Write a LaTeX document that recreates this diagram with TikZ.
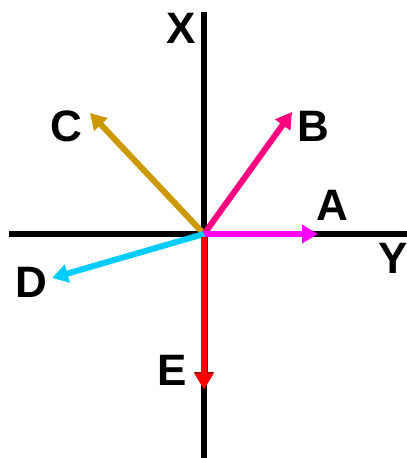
\documentclass[tikz,border=0pt]{standalone}
\usepackage{fontspec}
\setmainfont{Liberation Sans}
\usetikzlibrary{arrows.meta}
\definecolor{cgold}{HTML}{CC9900}
\definecolor{cpink}{HTML}{FF0080}
\definecolor{cmag}{HTML}{FF00FF}
\definecolor{ccyan}{HTML}{00CCFF}
\definecolor{cred}{HTML}{FF0000}
\definecolor{cdred}{HTML}{990000}
\begin{document}
\begin{tikzpicture}[x=1pt,y=-1pt,
  axis/.style={line width=5.5pt,black},
  vec/.style={line width=6pt,-{Triangle[length=16pt,width=18pt]}},
  lab/.style={font=\fontsize{44}{52}\selectfont\bfseries,inner sep=0pt}]
\useasboundingbox (0,0) rectangle (407,458);
\coordinate (O) at (204,234);
\coordinate (xt) at (204,12);
\coordinate (xb) at (204,458);
\coordinate (yl) at (9,234);
\coordinate (yr) at (407,234);
\draw[axis] (xt) -- (xb);
\draw[axis] (yl) -- (yr);
\coordinate (A) at (318,234);
\coordinate (B) at (292,112);
\coordinate (C) at (90,113);
\coordinate (D) at (52,278);
\coordinate (E) at (204,389);
\coordinate (O2) at (204,237);
\draw[vec,cgold] (O) -- (C);
\draw[vec,cpink] (O) -- (B);
\draw[vec,cmag] (O) -- (A);
\draw[vec,ccyan] (O) -- (D);
\draw[line width=7pt,cdred,-{Triangle[length=17pt,width=19pt]}] (O2) -- (E);
\draw[vec,cred] (O2) -- ([yshift=-0.6pt]E);
\node[lab] (lA) at (332,205) {A};
\node[lab] (lB) at (313,126) {B};
\node[lab] (lC) at (66,126) {C};
\node[lab] (lD) at (31,282) {D};
\node[lab] (lE) at (172,370) {E};
\node[lab] (lX) at (181,28) {X};
\node[lab] (lY) at (393,258) {Y};
\end{tikzpicture}
\end{document}
